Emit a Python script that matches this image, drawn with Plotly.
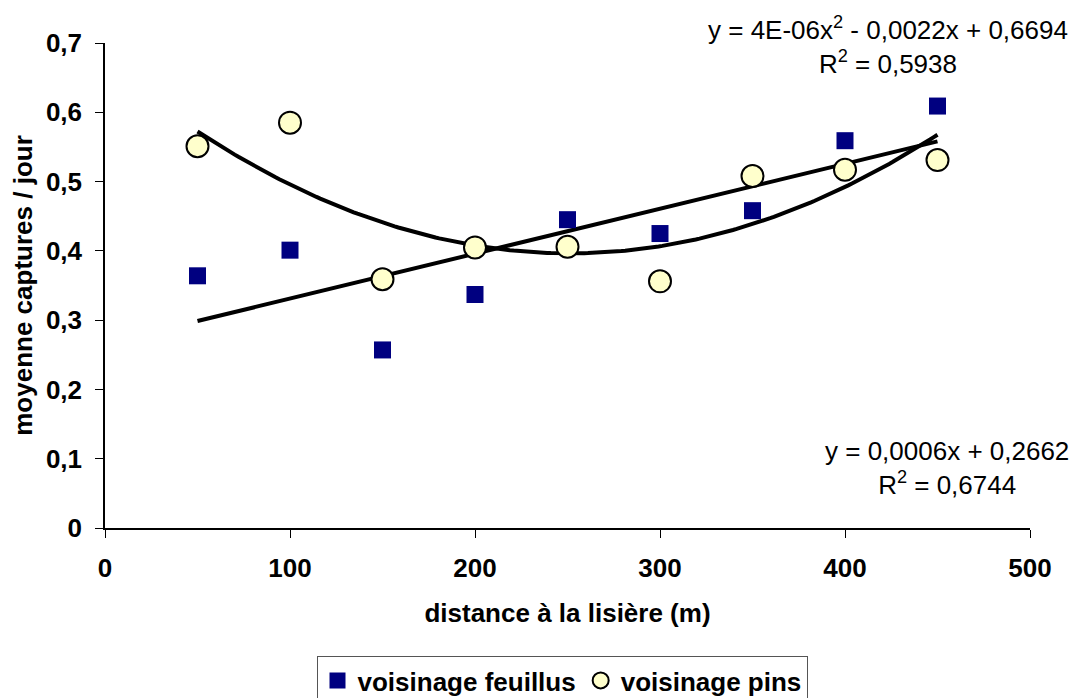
import numpy as np
import plotly.graph_objects as go

distance = [50, 100, 150, 200, 250, 300, 350, 400, 450]
feuillus = [0.364, 0.401, 0.257, 0.337, 0.445, 0.425, 0.458, 0.559, 0.609]
pins = [0.551, 0.585, 0.359, 0.405, 0.406, 0.356, 0.508, 0.517, 0.531]

x_tickvals = [0, 100, 200, 300, 400, 500]
x_ticktext = ["0", "100", "200", "300", "400", "500"]
y_tickvals = [0, 0.1, 0.2, 0.3, 0.4, 0.5, 0.6, 0.7]
y_ticktext = ["0", "0,1", "0,2", "0,3", "0,4", "0,5", "0,6", "0,7"]

eq_pins = "y = 4E-06x<sup>2</sup> - 0,0022x + 0,6694<br>R<sup>2</sup> = 0,5938"
eq_feuillus = "y = 0,0006x + 0,2662<br>R<sup>2</sup> = 0,6744"

# trendlines fitted from the data
xf = np.linspace(min(distance), max(distance), 200)
lin = np.polyval(np.polyfit(distance, feuillus, 1), xf)
quad = np.polyval(np.polyfit(distance, pins, 2), xf)

FONT = "Liberation Sans, Arial, sans-serif"
FS = 26

fig = go.Figure()
fig.add_trace(go.Scatter(x=xf, y=lin, mode="lines", line=dict(color="black", width=4),
                         showlegend=False, hoverinfo="skip"))
fig.add_trace(go.Scatter(x=xf, y=quad, mode="lines", line=dict(color="black", width=4),
                         showlegend=False, hoverinfo="skip"))
fig.add_trace(go.Scatter(x=distance, y=feuillus, mode="markers", name="voisinage feuillus",
                         marker=dict(symbol="square", size=17, color="#000080",
                                     line=dict(color="#000080", width=0))))
fig.add_trace(go.Scatter(x=distance, y=pins, mode="markers", name="voisinage pins",
                         marker=dict(symbol="circle", size=22, color="#FFFFCC",
                                     line=dict(color="black", width=2))))

# page body has an 8px margin: shrink figure and left/top margins accordingly
fig.update_layout(
    width=1069, height=690,
    paper_bgcolor="white", plot_bgcolor="white",
    margin=dict(l=97, r=47, t=35, b=170, autoexpand=False),
    font=dict(family=FONT, size=FS, color="black"),
    showlegend=True,
    legend=dict(orientation="h", x=(562 - 105) / 925, xanchor="center", y=(528 - 656) / 485,
                yanchor="top", bordercolor="#555555", borderwidth=1,
                font=dict(family=FONT, size=FS, color="black", weight="bold"),
                traceorder="normal", itemwidth=30),
    xaxis=dict(range=[0, 500], tickvals=x_tickvals, ticktext=x_ticktext,
               showgrid=False, zeroline=False, showline=True, linecolor="black", linewidth=1.5,
               ticks="outside", ticklen=8, tickcolor="black", tickwidth=1, ticklabelstandoff=8,
               tickfont=dict(family=FONT, size=FS, weight="bold"),
               title=dict(text="distance à la lisière (m)", standoff=22,
                          font=dict(family=FONT, size=FS, weight="bold"))),
    yaxis=dict(range=[0, 0.7], tickvals=y_tickvals, ticktext=y_ticktext,
               showgrid=False, zeroline=False, showline=True, linecolor="black", linewidth=1.5,
               ticks="outside", ticklen=8, tickcolor="black", tickwidth=1, ticklabelstandoff=8,
               tickfont=dict(family=FONT, size=FS, weight="bold"),
               title=dict(text="moyenne captures / jour", standoff=12,
                          font=dict(family=FONT, size=FS, weight="bold"))),
    annotations=[
        dict(text=eq_pins, xref="paper", yref="paper", x=(888 - 105) / 925, y=(528 - 46) / 485,
             xanchor="center", yanchor="middle", showarrow=False, align="center",
             font=dict(family=FONT, size=FS, color="black")),
        dict(text=eq_feuillus, xref="paper", yref="paper", x=(947 - 105) / 925, y=(528 - 468) / 485,
             xanchor="center", yanchor="middle", showarrow=False, align="center",
             font=dict(family=FONT, size=FS, color="black")),
    ],
)

fig.write_html("out.html")
